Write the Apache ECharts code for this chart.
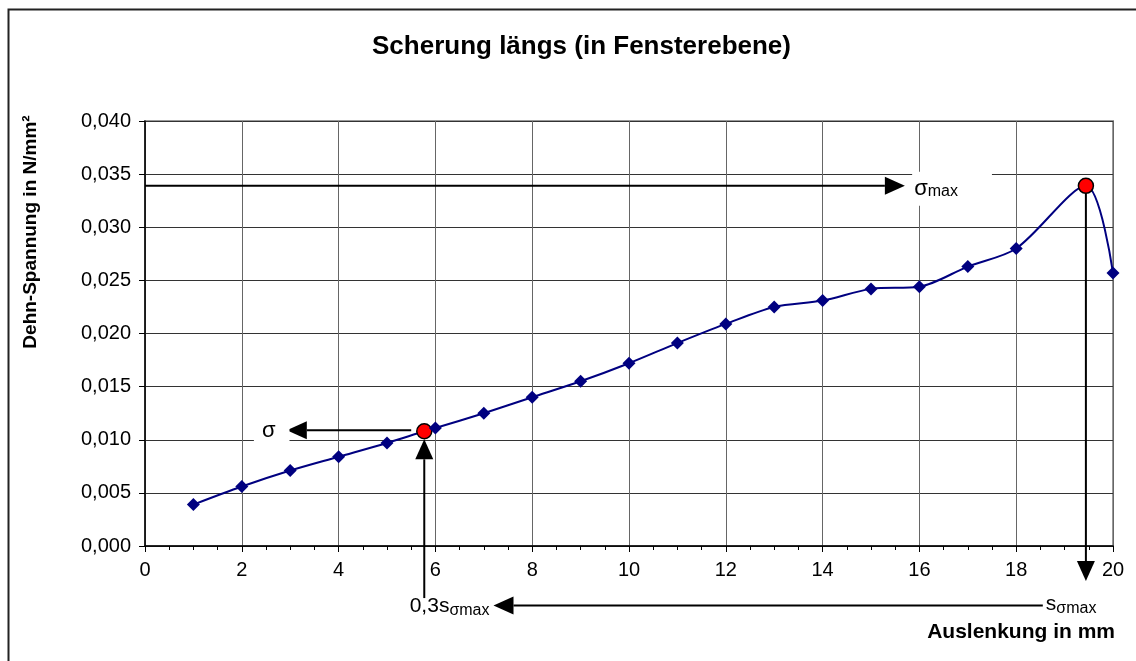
<!DOCTYPE html>
<html>
<head>
<meta charset="utf-8">
<script src="https://cdn.jsdelivr.net/npm/echarts@6/dist/echarts.min.js"></script>
<style>
html, body { margin: 0; padding: 0; background: #fff; }
#grafico { width: 1136px; height: 661px; }
</style>
</head>
<body>
<div id="grafico"></div>
<script>
// Messwerte: Auslenkung in mm / Dehn-Spannung in N/mm²
const auslenkung = [1, 2, 3, 4, 5, 5.77, 6, 7, 8, 9, 10, 11, 12, 13, 14, 15, 16, 17, 18, 19.44, 20]
const spannung = [0.0039, 0.0056, 0.0071, 0.0084, 0.0097, 0.0108, 0.0111, 0.0125, 0.0140, 0.0155, 0.0172,
  0.0191, 0.0209, 0.0225, 0.0231, 0.0242, 0.0244, 0.0263, 0.0280, 0.0339, 0.0257]
// markierte Punkte (0,3 s_max und sigma_max)
const markiert = [5.77, 19.44]
const xTicks = { min: 0, max: 20, interval: 2 }
const yTicks = { min: 0, max: 0.04, interval: 0.005 }

const FONT = 'Liberation Sans, Arial, sans-serif'
const chart = echarts.init(document.getElementById('grafico'))

const punkte = auslenkung.map((x, i) => {
  if (markiert.indexOf(x) >= 0) {
    return {
      value: [x, spannung[i]],
      symbol: 'circle',
      symbolSize: 15,
      itemStyle: { color: '#ff0000', borderColor: '#000', borderWidth: 1.5 }
    }
  }
  return [x, spannung[i]]
})

const option = {
  animation: false,
  backgroundColor: '#fff',
  title: {
    text: 'Scherung längs (in Fensterebene)',
    left: 367,
    top: 29,
    textStyle: { fontFamily: FONT, fontSize: 26, fontWeight: 'bold', color: '#000' }
  },
  grid: {
    left: 145,
    right: 23,
    top: 121,
    bottom: 115,
    show: true,
    borderColor: '#999',
    borderWidth: 2,
    backgroundColor: '#fff'
  },
  xAxis: {
    type: 'value',
    min: xTicks.min,
    max: xTicks.max,
    interval: xTicks.interval,
    axisLine: { lineStyle: { color: '#000', width: 1.5 } },
    axisTick: { show: true, length: 6, lineStyle: { color: '#000' } },
    minorTick: { show: true, splitNumber: 4, length: 4, lineStyle: { color: '#000' } },
    axisLabel: { fontFamily: FONT, fontSize: 20, color: '#000', margin: 14 },
    splitLine: { show: true, lineStyle: { color: '#666', width: 1 } }
  },
  yAxis: {
    type: 'value',
    min: yTicks.min,
    max: yTicks.max,
    interval: yTicks.interval,
    axisLine: { show: true, lineStyle: { color: '#000', width: 1.5 } },
    axisTick: { show: true, length: 6, lineStyle: { color: '#000' } },
    axisLabel: {
      fontFamily: FONT, fontSize: 20, color: '#000', margin: 14,
      formatter: v => v.toFixed(3).replace('.', ',')
    },
    splitLine: { show: true, lineStyle: { color: '#333', width: 1 } }
  },
  series: [
    {
      name: 'Spannung',
      type: 'line',
      smooth: 0.3,
      symbol: 'diamond',
      symbolSize: 13,
      z: 5,
      data: punkte,
      lineStyle: { color: '#000080', width: 2 },
      itemStyle: { color: '#000080' }
    }
  ]
}

chart.setOption(option)

// Hilfslinien / Pfeile aus Datenkoordinaten
const xSig = auslenkung[5], ySig = spannung[5]
const xMax = auslenkung[19], yMax = spannung[19]
const px = (x, y) => chart.convertToPixel({ gridIndex: 0 }, [x, y])

function pfeil(p0, p1) {
  const dx = p1[0] - p0[0], dy = p1[1] - p0[1]
  const len = Math.sqrt(dx * dx + dy * dy)
  const ux = dx / len, uy = dy / len
  const hl = 20, hw = 9
  const bx = p1[0] - ux * hl, by = p1[1] - uy * hl
  return [
    { type: 'line', z: 3, shape: { x1: p0[0], y1: p0[1], x2: bx, y2: by }, style: { stroke: '#000', lineWidth: 2 } },
    { type: 'polygon', z: 3, shape: { points: [p1, [bx - uy * hw, by + ux * hw], [bx + uy * hw, by - ux * hw]] }, style: { fill: '#000' } }
  ]
}

const pSig = px(xSig, ySig)
const pMax = px(xMax, yMax)
const yUnten = px(0, -0.0056)[1]

const graphics = [
  { type: 'rect', z: 0, shape: { x: 8.5, y: 9.5, width: 1200, height: 700 }, style: { fill: null, stroke: '#222', lineWidth: 2 } }
]
  .concat(pfeil(px(0, yMax), px(15.7, yMax)))
  .concat(pfeil([px(5.5, ySig)[0], pSig[1] - 1], [px(2.93, ySig)[0], pSig[1] - 1]))
  .concat(pfeil([pSig[0], px(0, -0.0049)[1]], [pSig[0], pSig[1] + 8]))
  .concat(pfeil(pMax, [pMax[0], px(0, -0.0033)[1]]))
  .concat(pfeil([px(18.55, 0)[0], yUnten], [px(7.2, 0)[0], yUnten]))
  .concat([
    {
      type: 'text', z: 3, x: 31, y: 232, rotation: Math.PI / 2,
      style: {
        text: 'Dehn-Spannung in N/mm²', align: 'center', verticalAlign: 'middle',
        fontFamily: FONT, fontSize: 19, fontWeight: 'bold', fill: '#000'
      }
    },
    {
      type: 'text', z: 3, x: px(15.85, yMax)[0], y: pMax[1] + 3,
      style: {
        text: '{a|σ}{b|max}', verticalAlign: 'middle', backgroundColor: '#fff', padding: [6, 34, 6, 2],
        rich: { a: { fontFamily: FONT, fontSize: 22, color: '#000' }, b: { fontFamily: FONT, fontSize: 16, color: '#000', padding: [6, 0, 0, 0] } }
      }
    },
    {
      type: 'text', z: 3, x: px(2.25, ySig)[0], y: pSig[1],
      style: {
        text: 'σ', fontFamily: FONT, fontSize: 22, fill: '#000', verticalAlign: 'middle',
        backgroundColor: '#fff', padding: [4, 14, 6, 8]
      }
    },
    {
      type: 'text', z: 3, x: px(7.2, 0)[0] - 4, y: yUnten + 1,
      style: {
        text: '{a|0,3s}{b|σmax}', align: 'right', verticalAlign: 'middle',
        rich: { a: { fontFamily: FONT, fontSize: 21, color: '#000' }, b: { fontFamily: FONT, fontSize: 16, color: '#000', padding: [9, 0, 0, 0] } }
      }
    },
    {
      type: 'text', z: 3, x: px(18.55, 0)[0] + 3, y: yUnten - 1,
      style: {
        text: '{a|s}{b|σmax}', align: 'left', verticalAlign: 'middle',
        rich: { a: { fontFamily: FONT, fontSize: 21, color: '#000' }, b: { fontFamily: FONT, fontSize: 16, color: '#000', padding: [9, 0, 0, 0] } }
      }
    },
    {
      type: 'text', z: 3, x: px(20, 0)[0] + 2, y: yUnten + 27,
      style: {
        text: 'Auslenkung in mm', align: 'right', verticalAlign: 'middle',
        fontFamily: FONT, fontSize: 21, fontWeight: 'bold', fill: '#000'
      }
    }
  ])

chart.setOption({ graphic: graphics })
</script>
</body>
</html>
